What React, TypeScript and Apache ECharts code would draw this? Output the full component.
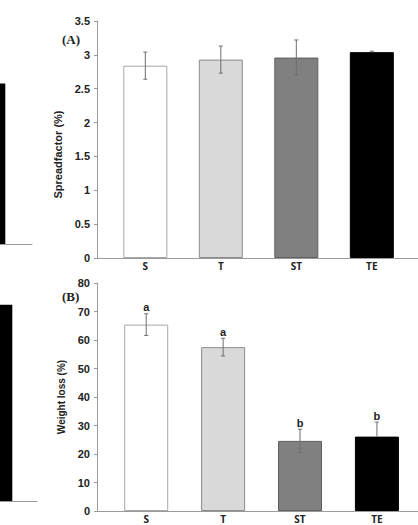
import React, { useEffect, useRef } from "react";
import * as echarts from "echarts";

const categories = ["S", "T", "ST", "TE"];
const spreadMean = [2.84, 2.93, 2.96, 3.04];
const spreadErr = [0.2, 0.2, 0.26, 0.015];
const weightMean = [65.4, 57.5, 24.6, 26.1];
const weightErr = [3.8, 3.1, 4.1, 5.1];
const weightLetters = ["a", "a", "b", "b"];
const fillColors = ["#ffffff", "#d9d9d9", "#808080", "#000000"];
const borderColors = ["#a6a6a6", "#8c8c8c", "#5f5f5f", "#000000"];
// fragments of the neighbouring (cropped) panels on the left
const leftFragA = [68];
const leftFragB = [90];

const AX = "#9a9a9a";
const LBL_FONT = "'Liberation Sans', Arial, sans-serif";

function barData(means: number[]) {
  return means.map((m, i) => ({
    value: [i + 1, m],
    itemStyle: { color: fillColors[i], borderColor: borderColors[i], borderWidth: 1 },
  }));
}

function errSeries(idx: number, means: number[], errs: number[], letters?: string[]) {
  return {
    type: "custom",
    xAxisIndex: idx,
    yAxisIndex: idx,
    z: 5,
    data: means.map((m, i) => [i + 1, m, errs[i], i]),
    renderItem: (params: any, api: any) => {
      const x = api.value(0);
      const y = api.value(1);
      const e = api.value(2);
      const i = api.value(3);
      const top = api.coord([x, y + e]);
      const mid = api.coord([x, y]);
      const bot = api.coord([x, y - e]);
      const st = { stroke: "#6e6e6e", lineWidth: 1 };
      const darkBar = fillColors[i] === "#000000";
      const children: any[] = [
        { type: "line", shape: { x1: top[0], y1: top[1], x2: top[0], y2: darkBar ? mid[1] : bot[1] }, style: st },
        { type: "line", shape: { x1: top[0] - 2, y1: top[1], x2: top[0] + 2, y2: top[1] }, style: st },
      ];
      if (!darkBar) {
        children.push({ type: "line", shape: { x1: bot[0] - 2, y1: bot[1], x2: bot[0] + 2, y2: bot[1] }, style: st });
      }
      if (letters) {
        children.push({
          type: "text",
          x: top[0],
          y: top[1] - 1,
          style: {
            text: letters[i],
            fill: "#222",
            font: "bold 11px " + LBL_FONT,
            align: "center",
            verticalAlign: "bottom",
          },
        });
      }
      return { type: "group", children };
    },
  };
}

function xAxisMain(idx: number, min: number, max: number) {
  return {
    type: "value",
    gridIndex: idx,
    min,
    max,
    axisLine: { show: true, lineStyle: { color: AX, width: 1 } },
    axisTick: { show: false },
    splitLine: { show: false },
    axisLabel: {
      customValues: [1, 2, 3, 4],
      formatter: (v: number) => categories[Math.round(v) - 1] ?? "",
      margin: 3,
      color: "#222",
      fontFamily: "'Open Sans', sans-serif",
      fontWeight: "bold",
      fontSize: 10,
    },
  };
}

function yAxisMain(idx: number, max: number, interval: number, name: string, nameSize: number, pad: number[]) {
  return {
    type: "value",
    gridIndex: idx,
    min: 0,
    max,
    interval,
    name,
    nameLocation: "middle",
    nameGap: 26,
    nameTextStyle: {
      fontFamily: LBL_FONT,
      fontWeight: "bold",
      fontSize: nameSize,
      color: "#222",
      padding: pad,
    },
    axisLine: { show: true, lineStyle: { color: AX, width: 1 } },
    axisTick: { show: true, inside: false, length: 3, lineStyle: { color: AX } },
    splitLine: { show: false },
    axisLabel: {
      margin: 7,
      color: "#222",
      fontFamily: LBL_FONT,
      fontWeight: "bold",
      fontSize: 11,
    },
  };
}

export default function App() {
  const ref = useRef<HTMLDivElement>(null);
  useEffect(() => {
    if (!ref.current) return;
    const chart = echarts.init(ref.current, undefined, { renderer: "svg" });
    chart.setOption({
      animation: false,
      backgroundColor: "#ffffff",
      title: [
        {
          text: "(A)",
          left: 57,
          top: 28,
          textStyle: { fontFamily: "'Liberation Serif', 'Times New Roman', serif", fontWeight: "bold", fontSize: 13, color: "#222" },
        },
        {
          text: "(B)",
          left: 57,
          top: 285,
          textStyle: { fontFamily: "'Liberation Serif', 'Times New Roman', serif", fontWeight: "bold", fontSize: 13, color: "#222" },
        },
      ],
      grid: [
        { left: 97, top: 21, width: 321, height: 237 },
        { left: 97, top: 283, width: 321, height: 228 },
        { left: 0, top: 8, width: 32, height: 236 },
        { left: 0, top: 283, width: 37, height: 218 },
      ],
      xAxis: [
        xAxisMain(0, 0.36, 0.36 + 321 / 75.5),
        xAxisMain(1, 0.36, 0.36 + 321 / 76.9),
        {
          type: "value", gridIndex: 2, min: 0, max: 1,
          axisLine: { show: true, lineStyle: { color: AX } },
          axisTick: { show: false }, axisLabel: { show: false }, splitLine: { show: false },
        },
        {
          type: "value", gridIndex: 3, min: 0, max: 1,
          axisLine: { show: true, lineStyle: { color: AX } },
          axisTick: { show: false }, axisLabel: { show: false }, splitLine: { show: false },
        },
      ],
      yAxis: [
        yAxisMain(0, 3.5, 0.5, "Spreadfactor (%)", 11, [0, 30, 0, 0]),
        yAxisMain(1, 80, 10, "Weight loss (%)", 10, [0, 0, 0, 0]),
        { type: "value", gridIndex: 2, min: 0, max: 100, show: false },
        { type: "value", gridIndex: 3, min: 0, max: 100, show: false },
      ],
      series: [
        { type: "bar", xAxisIndex: 0, yAxisIndex: 0, barWidth: 44, data: barData(spreadMean) },
        { type: "bar", xAxisIndex: 1, yAxisIndex: 1, barWidth: 44, data: barData(weightMean) },
        errSeries(0, spreadMean, spreadErr),
        errSeries(1, weightMean, weightErr, weightLetters),
        {
          type: "bar", xAxisIndex: 2, yAxisIndex: 2, barWidth: 10.6,
          itemStyle: { color: "#000" },
          data: leftFragA.map((v) => [0, v]),
        },
        {
          type: "bar", xAxisIndex: 3, yAxisIndex: 3, barWidth: 24.6,
          itemStyle: { color: "#000" },
          data: leftFragB.map((v) => [0, v]),
        },
      ],
    });
    return () => chart.dispose();
  }, []);
  return (
    <div
      ref={ref}
      style={{ position: "fixed", left: 0, top: 0, width: 418, height: 525, background: "#fff" }}
    />
  );
}
